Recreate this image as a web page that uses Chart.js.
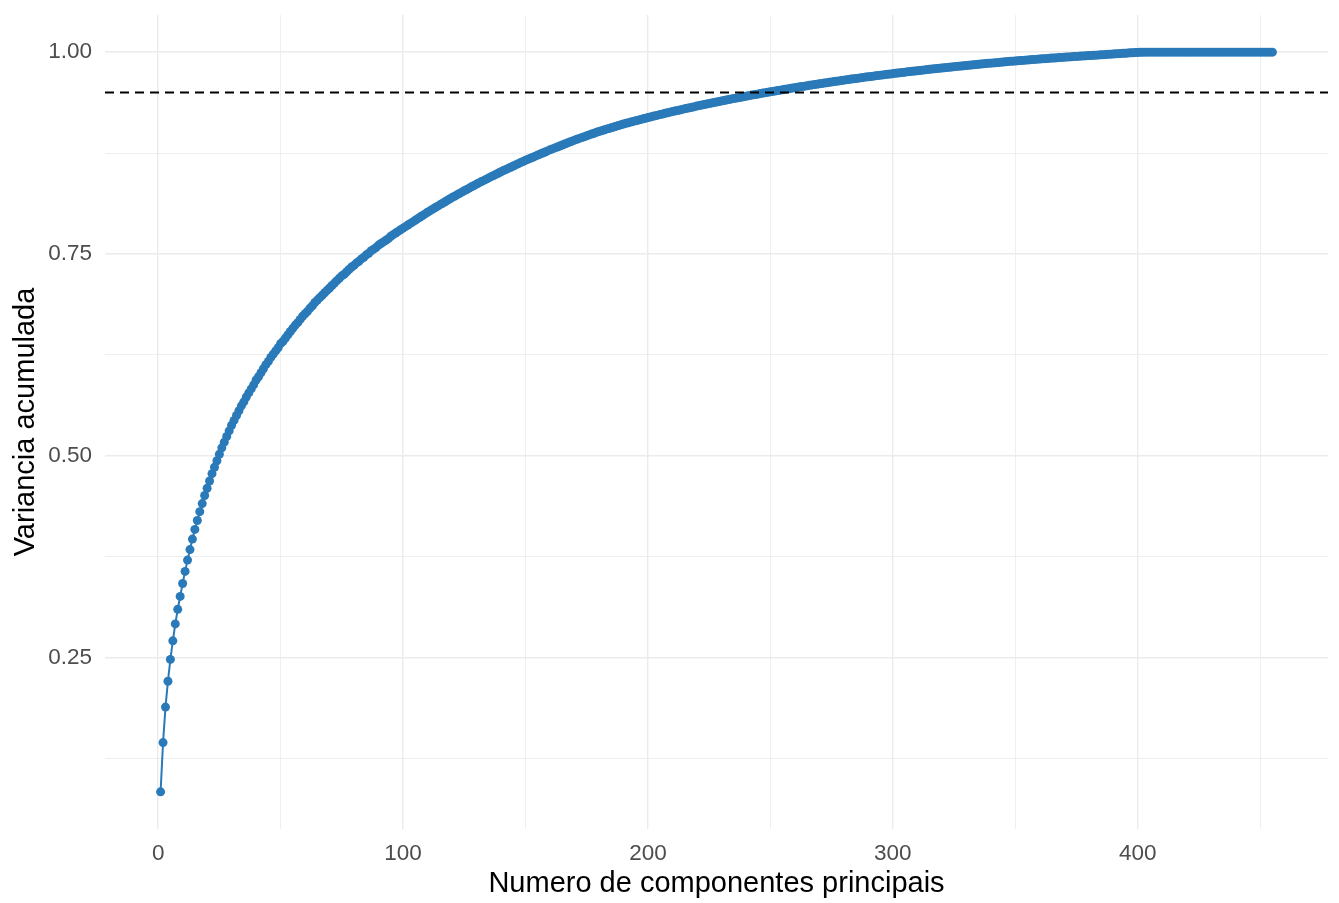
<!DOCTYPE html>
<html><head><meta charset="utf-8">
<script src="https://cdn.jsdelivr.net/npm/chart.js@4.4.1/dist/chart.umd.min.js"></script>
<style>html,body{margin:0;padding:0;background:#fff;overflow:hidden}canvas{display:block}</style>
</head><body>
<canvas id="c" width="1339" height="903"></canvas>
<script>
// Cumulative explained variance for principal components 1..455
const cumulativeVariance = [
.084,.145,.189,.221,.248,.271,.292,.310,.326,.342,
.357,.371,.384,.397,.409,.420,.431,.441,.451,.460,
.469,.478,.486,.494,.502,.510,.517,.524,.531,.538,
.544,.550,.556,.562,.567,.573,.578,.583,.588,.594,
.598,.603,.608,.613,.617,.622,.626,.630,.634,.639,
.642,.646,.650,.654,.658,.662,.665,.669,.673,.676,
.679,.683,.686,.690,.693,.696,.699,.702,.705,.708,
.711,.714,.717,.720,.723,.725,.728,.731,.734,.736,
.739,.741,.744,.746,.749,.751,.754,.756,.758,.761,
.763,.765,.767,.769,.772,.774,.776,.778,.780,.782,
.7839,.7859,.7879,.7898,.7918,.7938,.7958,.7977,.7997,.8017,
.8035,.8053,.8072,.8090,.8108,.8126,.8144,.8163,.8181,.8199,
.8216,.8232,.8249,.8266,.8283,.8299,.8316,.8333,.8349,.8366,
.8381,.8397,.8412,.8427,.8443,.8458,.8473,.8488,.8504,.8519,
.8533,.8547,.8561,.8575,.8590,.8604,.8618,.8632,.8646,.8660,
.8673,.8686,.8699,.8712,.8725,.8738,.8751,.8764,.8777,.8790,
.8802,.8814,.8826,.8838,.8850,.8862,.8874,.8886,.8898,.8910,
.8921,.8932,.8942,.8953,.8964,.8975,.8986,.8996,.9007,.9018,
.9027,.9036,.9046,.9055,.9064,.9073,.9082,.9092,.9101,.9110,
.9118,.9126,.9134,.9142,.9150,.9158,.9166,.9174,.9182,.9190,
.9197,.9205,.9212,.9220,.9227,.9234,.9242,.9249,.9257,.9264,
.9271,.9278,.9284,.9291,.9298,.9305,.9312,.9318,.9325,.9332,
.9338,.9345,.9351,.9357,.9364,.9370,.9376,.9382,.9389,.9395,
.9401,.9407,.9413,.9419,.9425,.9430,.9436,.9442,.9448,.9454,
.9460,.9465,.9471,.9476,.9482,.9487,.9493,.9498,.9504,.9509,
.9514,.9519,.9524,.9529,.9535,.9540,.9545,.9550,.9555,.9560,
.9565,.9570,.9574,.9579,.9584,.9589,.9594,.9598,.9603,.9608,
.9612,.9617,.9621,.9626,.9630,.9635,.9639,.9644,.9648,.9653,
.9657,.9661,.9666,.9670,.9674,.9678,.9682,.9687,.9691,.9695,
.9699,.9703,.9707,.9711,.9715,.9718,.9722,.9726,.9730,.9734,
.9738,.9741,.9745,.9748,.9752,.9756,.9759,.9763,.9766,.9770,
.9773,.9777,.9780,.9784,.9787,.9790,.9794,.9797,.9801,.9804,
.9807,.9810,.9813,.9816,.9820,.9823,.9826,.9829,.9832,.9835,
.9838,.9841,.9844,.9847,.9850,.9852,.9855,.9858,.9861,.9864,
.9867,.9869,.9872,.9875,.9878,.9880,.9883,.9886,.9888,.9891,
.9893,.9896,.9898,.9901,.9903,.9905,.9908,.9910,.9913,.9915,
.9917,.9919,.9922,.9924,.9926,.9928,.9930,.9933,.9935,.9937,
.9939,.9941,.9943,.9945,.9947,.9949,.9951,.9953,.9955,.9957,
.9959,.9961,.9963,.9965,.9967,.9969,.9971,.9973,.9975,.9977,
.9979,.9981,.9983,.9985,.9987,.9989,.9991,.9993,.9995,.9997,
.9998,.9999,1,1,1,1,1,1,1,1,
1,1,1,1,1,1,1,1,1,1,
1,1,1,1,1,1,1,1,1,1,
1,1,1,1,1,1,1,1,1,1,
1,1,1,1,1,1,1,1,1,1,
1,1,1,1,1
];
const componentNumbers = cumulativeVariance.map((_, i) => i + 1);
const xMajorTicks = [0, 100, 200, 300, 400];
const xMinorTicks = [50, 150, 250, 350, 450];
const yMajorTicks = [0.25, 0.50, 0.75, 1.00];
const yMinorTicks = [0.125, 0.375, 0.625, 0.875];
const thresholdValue = 0.95;
const xRange = [-21.7, 477.7];
const yRange = [0.038, 1.046];
const xTitle = 'Numero de componentes principais';
const yTitle = 'Variancia acumulada';

const FONT = "'Liberation Sans', Arial, Helvetica, sans-serif";
const BLUE = '#2A7AB9';

const points = componentNumbers.map((n, i) => ({ x: n, y: cumulativeVariance[i] }));
const thresholdLine = [{ x: xRange[0], y: thresholdValue }, { x: xRange[1], y: thresholdValue }];

function gridWidth(majors) {
  return ctx => (ctx.tick && majors.includes(ctx.tick.value)) ? 1.4 : 0.8;
}

new Chart(document.getElementById('c'), {
  type: 'scatter',
  data: {
    datasets: [
      {
        data: thresholdLine, showLine: true, borderColor: '#000', borderWidth: 2,
        borderDash: [9, 6], pointRadius: 0, order: 0
      },
      {
        data: points, showLine: true, borderColor: BLUE, borderWidth: 2,
        pointRadius: 4.5, pointBackgroundColor: BLUE, pointBorderWidth: 0,
        pointHoverRadius: 4.5, order: 1
      }
    ]
  },
  options: {
    responsive: false, animation: false, devicePixelRatio: 1,
    layout: { padding: { top: 15, right: 11, left: 0, bottom: 0 } },
    plugins: { legend: { display: false }, tooltip: { enabled: false } },
    scales: {
      x: {
        type: 'linear', min: xRange[0], max: xRange[1],
        afterBuildTicks: s => { s.ticks = xMajorTicks.concat(xMinorTicks).sort((a, b) => a - b).map(v => ({ value: v })); },
        afterFit: s => { s.height = 74; s.paddingLeft = 0; s.paddingRight = 0; },
        border: { display: false },
        grid: { color: '#EBEBEB', lineWidth: gridWidth(xMajorTicks), drawTicks: false },
        ticks: {
          autoSkip: false, maxRotation: 0, padding: 11, color: '#4D4D4D',
          font: { family: FONT, size: 22.5 },
          callback: v => xMajorTicks.includes(v) ? String(v) : ''
        },
        title: { display: true, text: xTitle, color: '#000', font: { family: FONT, size: 29 }, padding: { top: 0, bottom: 2 } }
      },
      y: {
        type: 'linear', min: yRange[0], max: yRange[1],
        afterBuildTicks: s => { s.ticks = yMajorTicks.concat(yMinorTicks).sort((a, b) => a - b).map(v => ({ value: v })); },
        afterFit: s => { s.width = 105; s.paddingTop = 0; s.paddingBottom = 0; },
        border: { display: false },
        grid: { color: '#EBEBEB', lineWidth: gridWidth(yMajorTicks), drawTicks: false },
        ticks: {
          autoSkip: false, padding: 13, color: '#4D4D4D',
          font: { family: FONT, size: 22.5 },
          callback: v => yMajorTicks.includes(v) ? v.toFixed(2) : ''
        },
        title: { display: true, text: yTitle, color: '#000', font: { family: FONT, size: 29 }, padding: { top: 9, bottom: 0 } }
      }
    }
  }
});
</script>
</body></html>
